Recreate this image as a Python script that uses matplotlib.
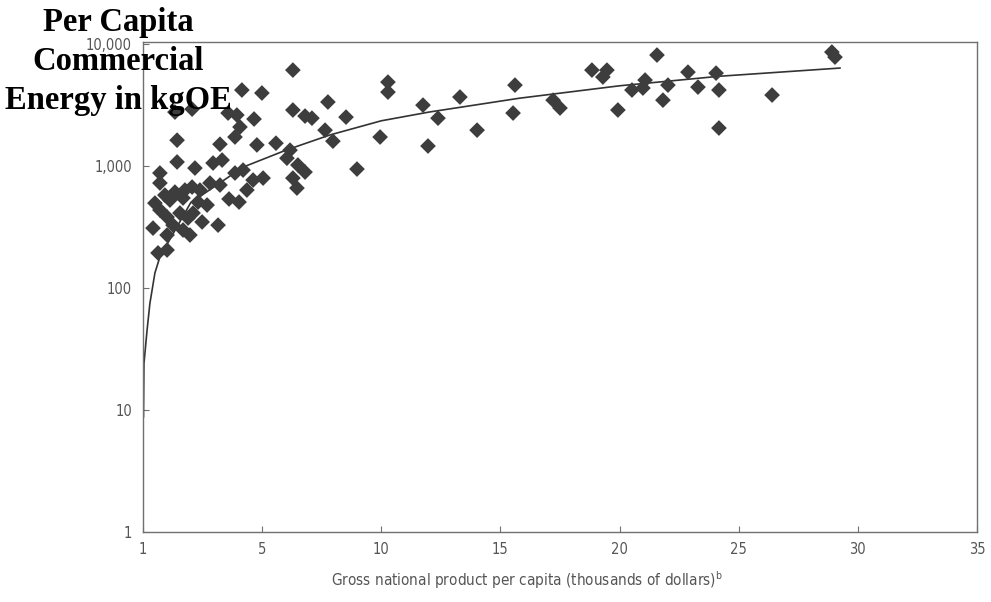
import matplotlib
matplotlib.use("Agg")
import matplotlib.pyplot as plt
from matplotlib import font_manager

# ---------------- data ----------------
# GNP per capita (thousands of dollars, axis origin labelled "1")
gnp = [6.29, 4.15, 4.99, 10.28, 10.28, 11.75, 7.76, 8.52, 6.29, 6.80,
       7.09, 3.57, 3.94, 4.66, 1.34, 2.06, 1.43, 1.43, 2.18, 3.23,
       4.07, 3.86, 4.78, 5.58, 7.64, 7.97, 8.98, 9.95, 11.96, 12.38,
       13.30, 14.02, 15.61, 15.53, 17.21, 17.50, 18.84, 19.47, 19.30, 19.93,
       20.52, 21.07, 20.98, 21.57, 22.03, 21.82, 22.87, 23.29, 24.05, 24.17,
       24.17, 26.40, 28.91, 29.04, 6.17, 6.04, 6.50, 6.80, 6.29, 6.46,
       4.62, 5.04, 4.36, 3.61, 4.03, 3.15, 2.94, 3.32, 3.86, 4.20,
       0.71, 2.06, 2.81, 3.23, 0.50, 1.13, 1.68, 2.31, 1.01, 1.55,
       2.10, 0.42, 1.26, 1.68, 2.48, 1.01, 1.97, 0.63, 1.01, 2.69,
       1.76, 1.34, 2.39, 0.92, 1.89, 0.71, 0.71]
# per capita commercial energy (kg oil equivalent)
energy = [6120, 4200, 3970, 4880, 4040, 3160, 3350, 2520, 2880, 2570,
          2470, 2720, 2620, 2430, 2770, 2930, 1630, 1080, 963, 1510,
          2090, 1730, 1490, 1540, 1970, 1600, 945, 1730, 1460, 2470,
          3680, 1970, 4610, 2720, 3470, 2990, 6120, 6120, 5370, 2880,
          4200, 5070, 4360, 8130, 4610, 3470, 5890, 4440, 5780, 4200,
          2050, 3820, 8600, 7820, 1350, 1160, 1020, 893, 797, 660,
          768, 797, 636, 537, 507, 328, 1059, 1120, 877, 927,
          726, 673, 726, 699, 497, 526, 547, 507, 382, 412,
          412, 310, 328, 299, 348, 272, 272, 194, 205, 479,
          636, 612, 636, 578, 375, 436, 877]

# fitted curve read along its visible path
fit_x = [0.02, 0.04, 0.17, 0.29, 0.50, 0.71, 2.0, 4.2, 6.0, 7.85, 10.0, 12.0,
         15.8, 20.0, 24.2, 29.25]
fit_y = [8.8, 24, 45, 75, 133, 180, 500, 980, 1350, 1800, 2350, 2770,
         3600, 4550, 5450, 6360]

x_ticks = [0, 5, 10, 15, 20, 25, 30, 35]
x_tick_labels = ["1", "5", "10", "15", "20", "25", "30", "35"]
y_ticks = [1, 10, 100, 1000, 10000]
y_tick_labels = ["1", "10", "100", "1,000", "10,000"]

# ---------------- fonts ----------------
names = {f.name for f in font_manager.fontManager.ttflist}
if "Liberation Sans Narrow" in names:
    cond_font = dict(family="Liberation Sans Narrow")
else:
    cond_font = dict(family="DejaVu Sans", stretch="condensed")
plt.rcParams["mathtext.fontset"] = "custom"
plt.rcParams["mathtext.rm"] = cond_font["family"]

label_gray = "#555555"
spine_gray = "#707070"

fig = plt.figure(figsize=(9.91, 6.02), dpi=100)
ax = fig.add_axes([143 / 991, 70 / 602, (977 - 143) / 991, (532 - 42) / 602])

ax.plot(fit_x, fit_y, color="#333333", lw=1.2, zorder=2)
ax.scatter(gnp, energy, marker="D", s=64, color="#3d3d3d", edgecolors="none", zorder=3)

ax.set_yscale("log")
ax.set_xlim(0, 35)
ax.set_ylim(1, 10400)
ax.set_xticks(x_ticks)
ax.set_xticklabels(x_tick_labels, color=label_gray, fontsize=10.5, **cond_font)
ax.set_yticks(y_ticks)
ax.set_yticklabels(y_tick_labels, color=label_gray, fontsize=10.5, **cond_font)
ax.yaxis.set_minor_locator(matplotlib.ticker.NullLocator())
ax.tick_params(direction="in", length=4, width=0.8, color=spine_gray)
ax.tick_params(axis="x", pad=7)
ax.tick_params(axis="y", pad=8)
for sp in ax.spines.values():
    sp.set_color(spine_gray)
    sp.set_linewidth(1.0)

ax.set_xlabel("Gross national product per capita (thousands of dollars)$^\\mathregular{b}$",
              color=label_gray, fontsize=11, **cond_font)
ax.xaxis.set_label_coords((527 - 143) / 834, -48 / 490)
ax.xaxis.label.set_verticalalignment("center")

fig.text(118 / 991, 1 - 7 / 602, "Per Capita\nCommercial\nEnergy in kgOE",
         ha="center", va="top", multialignment="center",
         fontsize=23.5, fontweight="bold", family="Liberation Serif",
         linespacing=1.34, color="black")

fig.savefig("out.png", dpi=100, facecolor="white")
